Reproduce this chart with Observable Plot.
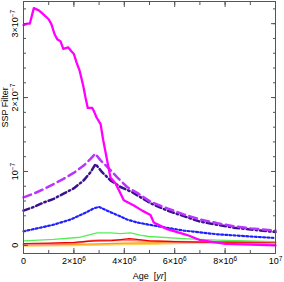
<!DOCTYPE html>
<html><head><meta charset="utf-8">
<script src="https://cdn.jsdelivr.net/npm/d3@7"></script>
<script src="https://cdn.jsdelivr.net/npm/@observablehq/plot@0.6"></script>
<style>html,body{margin:0;padding:0;background:#fff}svg{display:block}</style>
</head><body><div id="chart"></div>
<script>
// ---- data (age in yr, SSP filter value) ----
const magentaAge = [0, 0.15e6, 0.25e6, 0.41e6, 0.61e6, 0.78e6, 1.00e6, 1.11e6, 1.23e6, 1.34e6, 1.47e6, 1.58e6, 1.77e6, 1.89e6, 2.00e6, 2.10e6, 2.23e6, 2.37e6, 2.46e6, 2.55e6, 2.73e6, 2.79e6, 2.90e6, 3.06e6, 3.16e6, 3.45e6, 3.65e6, 3.98e6, 4.38e6, 4.71e6, 5.04e6, 5.17e6, 5.70e6, 6.50e6, 7.02e6, 8.02e6, 9.01e6, 10e6];
const magentaVal = [2.98e-7, 3.00e-7, 3.00e-7, 3.21e-7, 3.18e-7, 3.13e-7, 3.06e-7, 2.99e-7, 2.86e-7, 2.79e-7, 2.76e-7, 2.66e-7, 2.68e-7, 2.63e-7, 2.59e-7, 2.48e-7, 2.36e-7, 2.16e-7, 2.00e-7, 1.86e-7, 1.86e-7, 1.82e-7, 1.73e-7, 1.64e-7, 1.43e-7, 0.92e-7, 0.84e-7, 0.61e-7, 0.54e-7, 0.47e-7, 0.41e-7, 0.31e-7, 0.22e-7, 0.14e-7, 0.07e-7, 0.02e-7, 0.01e-7, 0.00e-7];

const dashedAge = [0, 0.41e6, 0.80e6, 1.20e6, 1.59e6, 1.99e6, 2.39e6, 2.66e6, 2.85e6, 3.06e6, 3.39e6, 3.72e6, 4.11e6, 4.56e6, 5.04e6, 5.71e6, 6.35e6, 7.02e6, 7.70e6, 8.33e6, 9.01e6, 10e6];
const dashedVal = [0.65e-7, 0.70e-7, 0.76e-7, 0.83e-7, 0.90e-7, 0.98e-7, 1.08e-7, 1.17e-7, 1.24e-7, 1.15e-7, 1.04e-7, 0.92e-7, 0.79e-7, 0.70e-7, 0.59e-7, 0.50e-7, 0.42e-7, 0.35e-7, 0.30e-7, 0.26e-7, 0.23e-7, 0.20e-7];

const dashDotAge = [0, 0.41e6, 0.80e6, 1.20e6, 1.59e6, 1.99e6, 2.39e6, 2.66e6, 2.86e6, 3.12e6, 3.45e6, 3.85e6, 4.31e6, 5.04e6, 5.71e6, 7.02e6, 8.33e6, 10e6];
const dashDotVal = [0.47e-7, 0.52e-7, 0.58e-7, 0.63e-7, 0.70e-7, 0.77e-7, 0.88e-7, 0.99e-7, 1.10e-7, 0.99e-7, 0.88e-7, 0.79e-7, 0.72e-7, 0.57e-7, 0.47e-7, 0.32e-7, 0.24e-7, 0.18e-7];

const blueAge = [0, 0.54e6, 1.20e6, 1.87e6, 2.39e6, 2.79e6, 2.99e6, 3.32e6, 3.72e6, 4.11e6, 4.51e6, 4.97e6, 6.36e6, 7.69e6, 9.01e6, 10e6];
const blueVal = [0.19e-7, 0.23e-7, 0.28e-7, 0.35e-7, 0.43e-7, 0.50e-7, 0.52e-7, 0.47e-7, 0.41e-7, 0.35e-7, 0.31e-7, 0.28e-7, 0.20e-7, 0.15e-7, 0.12e-7, 0.10e-7];

const greenAge = [0, 1.2e6, 2.26e6, 2.92e6, 3.45e6, 3.85e6, 4.25e6, 4.64e6, 4.97e6, 6.35e6, 7.69e6, 10e6];
const greenVal = [0.06e-7, 0.08e-7, 0.11e-7, 0.17e-7, 0.17e-7, 0.16e-7, 0.17e-7, 0.14e-7, 0.12e-7, 0.09e-7, 0.07e-7, 0.05e-7];

const salmonAge = [0, 1e6, 2e6, 2.6e6, 3e6, 3.5e6, 4.2e6, 5e6, 6e6, 7e6, 8e6, 10e6];
const salmonVal = [0.015e-7, 0.02e-7, 0.03e-7, 0.06e-7, 0.07e-7, 0.07e-7, 0.07e-7, 0.06e-7, 0.05e-7, 0.045e-7, 0.04e-7, 0.035e-7];

const redAge = [0, 1e6, 2e6, 2.8e6, 3.5e6, 4.2e6, 4.5e6, 5e6, 6e6, 7e6, 8e6, 9e6, 10e6];
const redVal = [0.025e-7, 0.03e-7, 0.04e-7, 0.06e-7, 0.065e-7, 0.09e-7, 0.08e-7, 0.06e-7, 0.05e-7, 0.045e-7, 0.045e-7, 0.045e-7, 0.045e-7];

const orangeAge = [0, 1e6, 2e6, 3e6, 4e6, 5e6, 6e6, 7e6, 8e6, 9e6, 10e6];
const orangeVal = [0.005e-7, 0.01e-7, 0.015e-7, 0.02e-7, 0.03e-7, 0.035e-7, 0.04e-7, 0.04e-7, 0.04e-7, 0.035e-7, 0.035e-7];

const yellowAge = [0, 2e6, 3e6, 4e6, 5e6, 6e6, 7e6, 8e6, 9e6, 10e6];
const yellowVal = [-0.005e-7, 0.0, 0.01e-7, 0.015e-7, 0.02e-7, 0.03e-7, 0.035e-7, 0.04e-7, 0.045e-7, 0.045e-7];

// ticks
const xTicks = [0, 2e6, 4e6, 6e6, 8e6, 1e7];
const xTickLabels = ["0", "2×10^6", "4×10^6", "6×10^6", "8×10^6", "10^7"];
const xMinorTicks = [0, 1e6, 2e6, 3e6, 4e6, 5e6, 6e6, 7e6, 8e6, 9e6, 1e7];
const yTicks = [0, 1e-7, 2e-7, 3e-7];
const yTickLabels = ["0", "10^−7", "2×10^−7", "3×10^−7"];
const yMinorTicks = [-0.0e-7, 0.2e-7, 0.4e-7, 0.6e-7, 0.8e-7, 1.0e-7, 1.2e-7, 1.4e-7, 1.6e-7, 1.8e-7, 2.0e-7, 2.2e-7, 2.4e-7, 2.6e-7, 2.8e-7, 3.0e-7, 3.2e-7];
const xLabel = "Age [yr]";
const yLabel = "SSP Filter";

// ---- styles ----
const series = [
  {age: yellowAge, val: yellowVal, stroke: "#ffd25e", w: 2, dash: null},
  {age: orangeAge, val: orangeVal, stroke: "#ff9a00", w: 1.2, dash: null},
  {age: salmonAge, val: salmonVal, stroke: "#ff8080", w: 2, dash: null},
  {age: redAge, val: redVal, stroke: "#ee0000", w: 1.2, dash: null},
  {age: greenAge, val: greenVal, stroke: "#55ee55", w: 1.3, dash: null},
  {age: blueAge, val: blueVal, stroke: "#2020ff", w: 2.2, dash: "2,2.2"},
  {age: dashDotAge, val: dashDotVal, stroke: "#3a1290", w: 2.5, dash: "6,3,1.5,3"},
  {age: dashedAge, val: dashedVal, stroke: "#bb33ff", w: 2.5, dash: "8,4.5"},
  {age: magentaAge, val: magentaVal, stroke: "#ff00ff", w: 2.3, dash: null}
];

const axisColor = "#555";
const font = "'Liberation Sans', Arial, Helvetica, sans-serif";

const marks = [];
for (const s of series) {
  const d = s.age.map((a, i) => ({a, v: s.val[i]}));
  marks.push(Plot.line(d, {x: "a", y: "v", stroke: s.stroke, strokeWidth: s.w, strokeDasharray: s.dash, curve: "linear", strokeLinejoin: "round"}));
}
const noText = () => "";
marks.push(
  Plot.axisX(xMinorTicks, {anchor: "bottom", tickSize: -3, tickFormat: noText, label: null, stroke: axisColor}),
  Plot.axisX(xMinorTicks, {anchor: "top", tickSize: -3, tickFormat: noText, label: null, stroke: axisColor}),
  Plot.axisX(xTicks, {anchor: "bottom", tickSize: -5, tickFormat: noText, label: null, stroke: axisColor}),
  Plot.axisX(xTicks, {anchor: "top", tickSize: -5, tickFormat: noText, label: null, stroke: axisColor}),
  Plot.axisY(yMinorTicks, {anchor: "left", tickSize: -3, tickFormat: noText, label: null, stroke: axisColor}),
  Plot.axisY(yMinorTicks, {anchor: "right", tickSize: -3, tickFormat: noText, label: null, stroke: axisColor}),
  Plot.axisY(yTicks, {anchor: "left", tickSize: -5, tickFormat: noText, label: null, stroke: axisColor}),
  Plot.axisY(yTicks, {anchor: "right", tickSize: -5, tickFormat: noText, label: null, stroke: axisColor}),
  Plot.frame({stroke: axisColor, strokeWidth: 1}),
  Plot.text(xTicks, {x: d => d, frameAnchor: "bottom", dy: 8, text: (d, i) => xTickLabels[i], lineAnchor: "middle", textAnchor: "middle", fill: "#000", fontSize: 9}),
  Plot.text(yTicks, {y: d => d, frameAnchor: "left", dx: -8, rotate: -90, text: (d, i) => yTickLabels[i], lineAnchor: "middle", textAnchor: "middle", fill: "#000", fontSize: 9}),
  Plot.text([xLabel], {frameAnchor: "bottom", dy: 23, text: d => d, lineAnchor: "middle", fill: "#000", fontSize: 9}),
  Plot.text([yLabel], {frameAnchor: "left", dx: -18, rotate: -90, text: d => d, lineAnchor: "middle", fill: "#000", fontSize: 9})
);

const chart = Plot.plot({
  width: 284, height: 282,
  marginLeft: 23, marginRight: 9, marginTop: 1, marginBottom: 29,
  style: {fontFamily: font, background: "#fff", overflow: "visible"},
  x: {domain: [0, 1e7], axis: null},
  y: {domain: [-0.11e-7, 3.3e-7], axis: null},
  marks
});

// superscripts and italics
d3.select(chart).selectAll("text").each(function() {
  const s = this.textContent;
  const sel = d3.select(this);
  if (s.includes("^")) {
    const [base, exp] = s.split("^");
    this.textContent = "";
    sel.append("tspan").text(base);
    sel.append("tspan").attr("dy", "-0.45em").attr("font-size", "6.5").text(exp);
  } else if (s === xLabel) {
    this.textContent = "";
    sel.append("tspan").text("Age  [");
    sel.append("tspan").attr("font-style", "italic").text("yr");
    sel.append("tspan").text("]");
  }
});
document.getElementById("chart").appendChild(chart);
</script>
</body></html>
